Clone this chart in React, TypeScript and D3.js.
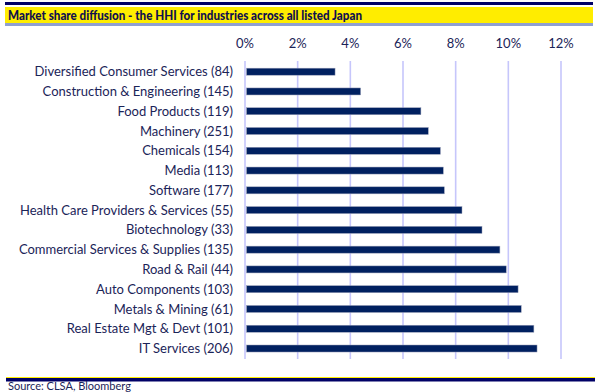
import { useEffect, useRef } from "react";
import * as d3 from "d3";

const industries = [
  "Diversified Consumer Services (84)",
  "Construction & Engineering (145)",
  "Food Products (119)",
  "Machinery (251)",
  "Chemicals (154)",
  "Media (113)",
  "Software (177)",
  "Health Care Providers & Services (55)",
  "Biotechnology (33)",
  "Commercial Services & Supplies (135)",
  "Road & Rail (44)",
  "Auto Components (103)",
  "Metals & Mining (61)",
  "Real Estate Mgt & Devt (101)",
  "IT Services (206)",
];
const hhi = [3.42, 4.39, 6.68, 6.96, 7.42, 7.53, 7.57, 8.24, 9.0, 9.68, 9.92, 10.37, 10.49, 10.97, 11.09];
const ticks = [0, 2, 4, 6, 8, 10, 12];

const title = "Market share diffusion - the HHI for industries across all listed Japan";
const source = "Source: CLSA, Bloomberg";

export default function App() {
  const svgRef = useRef<SVGSVGElement>(null);

  useEffect(() => {
    const width = 595, height = 392;
    const svg = d3.select(svgRef.current).attr("width", width).attr("height", height);
    svg.selectAll("*").remove();
    const font = "Lato, 'Open Sans', sans-serif";
    const navy = "#1b2458";

    // header
    svg.append("rect").attr("x", 5).attr("y", 2).attr("width", 588).attr("height", 3).attr("fill", "#000066");
    svg.append("rect").attr("x", 5).attr("y", 7).attr("width", 588).attr("height", 16).attr("fill", "#ffed00");
    svg.append("rect").attr("x", 5).attr("y", 23).attr("width", 588).attr("height", 3).attr("fill", "#8f9fd2");
    svg.append("text")
      .attr("x", 8).attr("y", 19.5)
      .attr("font-family", font).attr("font-weight", 900).attr("font-size", 13)
      .attr("fill", "#10104e")
      .attr("textLength", 354).attr("lengthAdjust", "spacingAndGlyphs")
      .text(title);

    const x = d3.scaleLinear().domain([0, 12]).range([245, 561]);
    const y = d3.scaleBand().domain(industries).range([61.8, 358.4]).paddingInner(0.645).paddingOuter(0.3225);

    // gridlines
    svg.append("g").selectAll("line").data(ticks).join("line")
      .attr("x1", d => x(d)).attr("x2", d => x(d))
      .attr("y1", 61).attr("y2", 359)
      .attr("stroke", "#c6c6fb").attr("stroke-width", 1.6);

    // axis labels
    svg.append("g").selectAll("text").data(ticks).join("text")
      .attr("x", d => x(d)).attr("y", 48)
      .attr("text-anchor", "middle")
      .attr("font-family", font).attr("font-size", 13).attr("fill", navy)
      .text(d => `${d}%`);

    // bars
    const rows = industries.map((name, i) => ({ name, v: hhi[i] }));
    svg.append("g").selectAll("rect").data(rows).join("rect")
      .attr("x", x(0) + 1.5).attr("y", d => y(d.name)!)
      .attr("width", d => x(d.v) - x(0) - 1.5).attr("height", y.bandwidth())
      .attr("fill", "#002060")
      .attr("stroke", "#9aa0b8").attr("stroke-width", 0.5);

    // category labels
    svg.append("g").selectAll("text").data(rows).join("text")
      .attr("x", 233).attr("y", d => y(d.name)! + y.bandwidth() / 2)
      .attr("dy", "0.35em").attr("text-anchor", "end")
      .attr("font-family", font).attr("font-size", 13).attr("fill", navy)
      .text(d => d.name);

    // footer
    svg.append("rect").attr("x", 6).attr("y", 377).attr("width", 589).attr("height", 1).attr("fill", "#ffed00");
    svg.append("rect").attr("x", 6).attr("y", 378).attr("width", 589).attr("height", 3.5).attr("fill", "#000066");
    svg.append("text")
      .attr("x", 8).attr("y", 390)
      .attr("font-family", font).attr("font-size", 11).attr("fill", navy)
      .text(source);
  }, []);

  return <svg ref={svgRef} style={{ position: "absolute", left: 0, top: 0 }}></svg>;
}
